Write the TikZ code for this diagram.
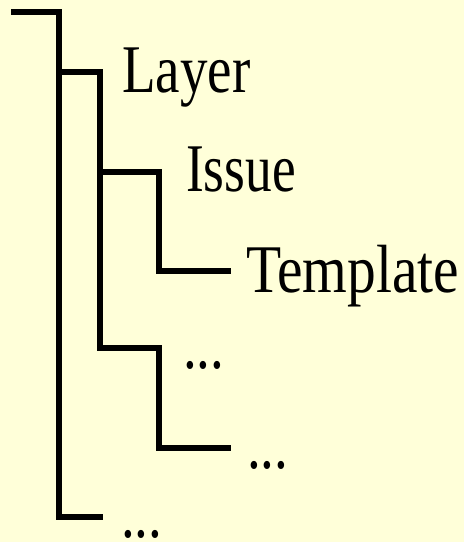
\documentclass[tikz,border=0pt]{standalone}
\usepackage{fontspec}
\setmainfont{Liberation Serif}
\usepackage{graphicx}
\definecolor{paper}{RGB}{255,255,217}
\begin{document}
\begin{tikzpicture}[x=1pt,y=-1pt,
  branch/.style={line width=6pt, line join=miter, line cap=butt},
  item/.style={anchor=base west, inner sep=0pt, font=\fontsize{55}{60}\selectfont},
]
% page background
\fill[paper] (0,0) rectangle (464,542);
\useasboundingbox (0,0) rectangle (464,542);

% tree entries (tall serif text)
\node[item] (layer)    at (122,92)    {\scalebox{1}[1.24]{Layer}};
\node[item] (issue)    at (186,191.5) {\scalebox{0.97}[1.24]{Issue}};
\node[item] (template) at (246,292)   {\scalebox{1.045}[1.24]{Template}};
\node[item] (moreA)    at (183,368)   {\scalebox{1}[1.24]{...}};
\node[item] (moreB)    at (247,468)   {\scalebox{1}[1.24]{...}};
\node[item] (moreC)    at (121,537)   {\scalebox{1}[1.24]{...}};

% corner points of the tree lines
\coordinate (rootL) at (11,12);
\coordinate (rootC) at (59,12);
\coordinate (trunkEnd) at (59,517);
\coordinate (toMoreC) at (103,517);
\coordinate (layerIn) at (59,72);
\coordinate (layerC) at (99.5,72);
\coordinate (layerBot) at (99.5,348);
\coordinate (issueIn) at (99.5,172);
\coordinate (issueC) at (159,172);
\coordinate (issueBot) at (159,271);
\coordinate (toTemplate) at (231,271);
\coordinate (moreAC) at (159,348);
\coordinate (moreABot) at (159,448);
\coordinate (toMoreB) at (231,448);

% trunk
\draw[branch] (rootL) -- (rootC) -- (trunkEnd) -- (toMoreC);
% Layer level
\draw[branch] (layerIn) -- (layerC) -- (layerBot) -- (moreAC) -- (moreABot) -- (toMoreB);
% Issue level
\draw[branch] (issueIn) -- (issueC) -- (issueBot) -- (toTemplate);
\end{tikzpicture}
\end{document}
